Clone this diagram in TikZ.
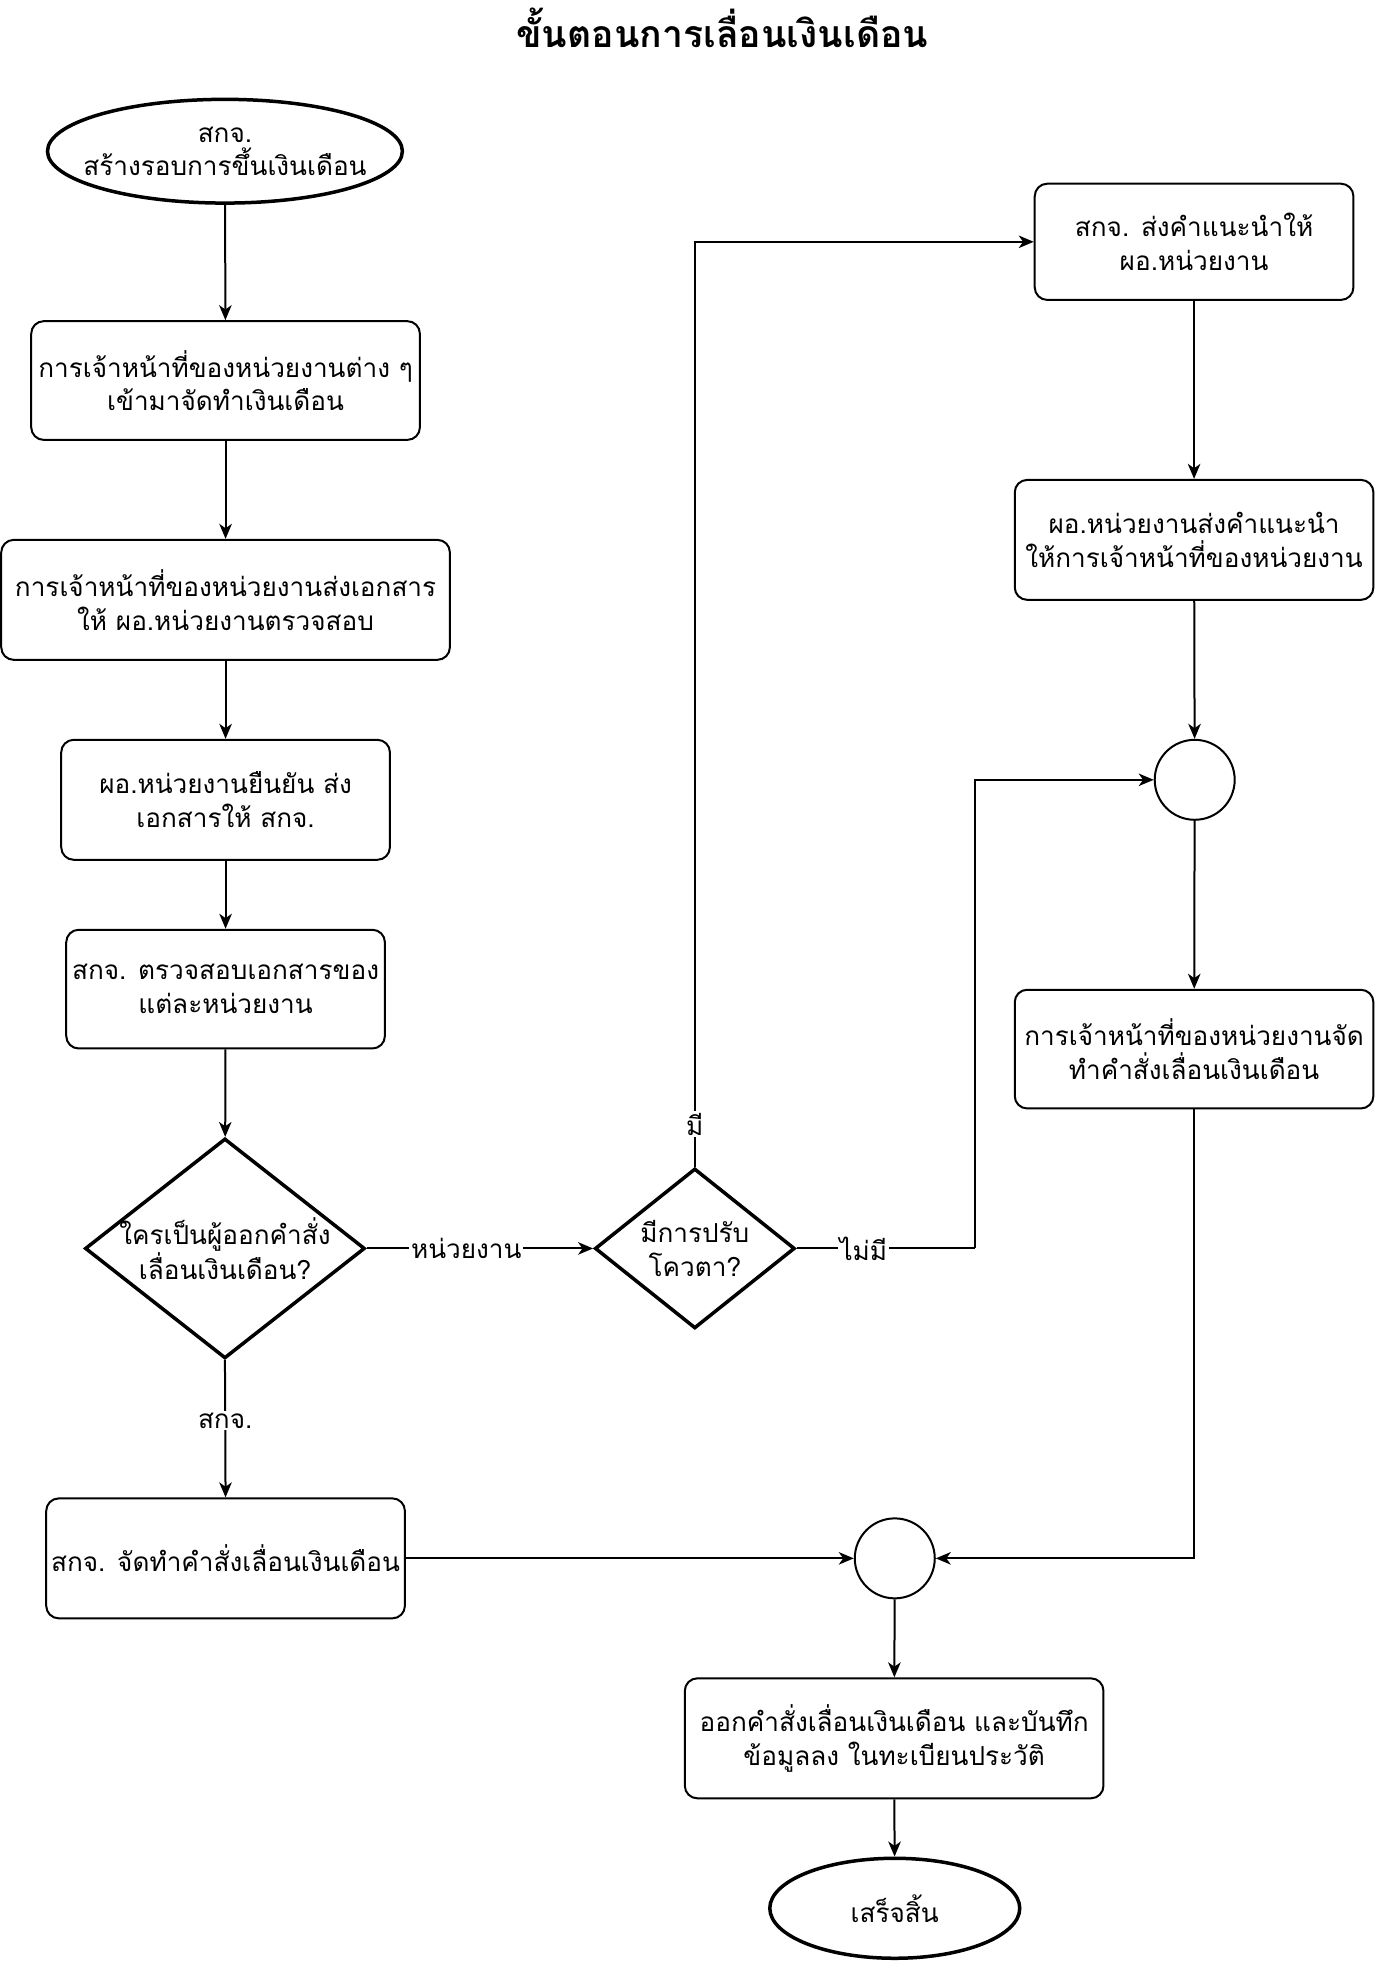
\documentclass[tikz,border=0pt]{standalone}
\usepackage{fontspec}
\newfontfamily\thaifont[Script=Thai]{Loma}
\usetikzlibrary{shapes.geometric,arrows.meta}
\begin{document}
\begin{tikzpicture}[x=1bp,y=-1bp,
  txt/.style={font=\thaifont\fontsize{21}{27}\selectfont, align=center, inner sep=0pt},
  box/.style={txt, draw, rounded corners=10bp, line width=1.6bp},
  term/.style={draw, ellipse, line width=2.8bp, inner sep=0pt},
  dia/.style={draw, diamond, line width=2.8bp, inner sep=0pt},
  junc/.style={draw, circle, line width=1.6bp, minimum size=64bp, inner sep=0pt},
  arr/.style={line width=1.6bp, -{Stealth[length=12bp,width=10bp,inset=3.5bp]}},
  lbl/.style={txt, fill=white, inner sep=1.5bp}]
\useasboundingbox (0,0) rectangle (1102.7,1570);
\node[font=\thaifont\bfseries\fontsize{30}{34}\selectfont, inner sep=0pt] (title) at (578,22) {ขั้นตอนการเลื่อนเงินเดือน};
% left column
\node[term, minimum width=284bp, minimum height=83bp] (start) at (180,121) {};
\node[txt] (startt) at (start.center) {สกจ.\\สร้างรอบการขึ้นเงินเดือน};
\node[box, minimum width=311bp, minimum height=95bp] (b1) at (180.5,304.5) {การเจ้าหน้าที่ของหน่วยงานต่าง ๆ\\เข้ามาจัดทำเงินเดือน};
\node[box, minimum width=359bp, minimum height=96bp] (b2) at (180.5,480) {การเจ้าหน้าที่ของหน่วยงานส่งเอกสาร\\ให้ ผอ.หน่วยงานตรวจสอบ};
\node[box, minimum width=263bp, minimum height=96bp] (b3) at (180.5,640) {ผอ.หน่วยงานยืนยัน ส่ง\\เอกสารให้ สกจ.};
\node[box, minimum width=255bp, minimum height=95bp] (b4) at (180.5,791.5) {สกจ. ตรวจสอบเอกสารของ\\แต่ละหน่วยงาน};
\node[dia, minimum width=224bp, minimum height=176bp] (d1) at (180,999) {};
\node[txt] (d1t) at (d1.center) {ใครเป็นผู้ออกคำสั่ง\\เลื่อนเงินเดือน?};
\node[box, minimum width=287bp, minimum height=96bp] (b5) at (180.5,1247) {สกจ. จัดทำคำสั่งเลื่อนเงินเดือน};
% middle
\node[dia, minimum width=160bp, minimum height=128bp] (d2) at (556,999) {};
\node[txt] (d2t) at (d2.center) {มีการปรับ\\โควตา?};
\node[junc] (c2) at (716,1247) {};
\node[box, minimum width=335bp, minimum height=96bp] (b6) at (715.5,1391) {ออกคำสั่งเลื่อนเงินเดือน และบันทึก\\ข้อมูลลง ในทะเบียนประวัติ};
\node[term, minimum width=200bp, minimum height=80bp] (end) at (716,1527) {};
\node[txt] (endt) at (end.center) {เสร็จสิ้น};
% right column
\node[box, minimum width=255bp, minimum height=93bp] (r1) at (955.5,193.5) {สกจ. ส่งคำแนะนำให้\\ผอ.หน่วยงาน};
\node[box, minimum width=287bp, minimum height=96bp] (r2) at (955.5,432) {ผอ.หน่วยงานส่งคำแนะนำ\\ให้การเจ้าหน้าที่ของหน่วยงาน};
\node[junc] (c1) at (956,624) {};
\node[box, minimum width=287bp, minimum height=95bp] (r3) at (955.5,839.5) {การเจ้าหน้าที่ของหน่วยงานจัด\\ทำคำสั่งเลื่อนเงินเดือน};
\coordinate (k1) at (780,999);
% connectors
\draw[arr] (start) -- (b1);
\draw[arr] (b1) -- (b2);
\draw[arr] (b2) -- (b3);
\draw[arr] (b3) -- (b4);
\draw[arr] (b4) -- (d1);
\draw[arr] (d1.east) -- node[lbl, pos=0.44] {หน่วยงาน} (d2.west);
\draw[arr] (d1.south) -- node[lbl, pos=0.44] {สกจ.} (b5.north);
\draw[arr] (d2.north) |- node[lbl, pos=0.023] {มี} (r1.west);
\draw[line width=1.6bp] (d2.east) -- node[lbl, pos=0.375] {ไม่มี} (k1);
\draw[arr] (k1) |- (c1.west);
\draw[arr] (r1) -- (r2);
\draw[arr] (r2) -- (c1);
\draw[arr] (c1) -- (r3);
\draw[arr] (r3.south) |- (c2.east);
\draw[arr] (b5.east) -- (c2.west);
\draw[arr] (c2) -- (b6);
\draw[arr] (b6) -- (end);
\end{tikzpicture}
\end{document}
